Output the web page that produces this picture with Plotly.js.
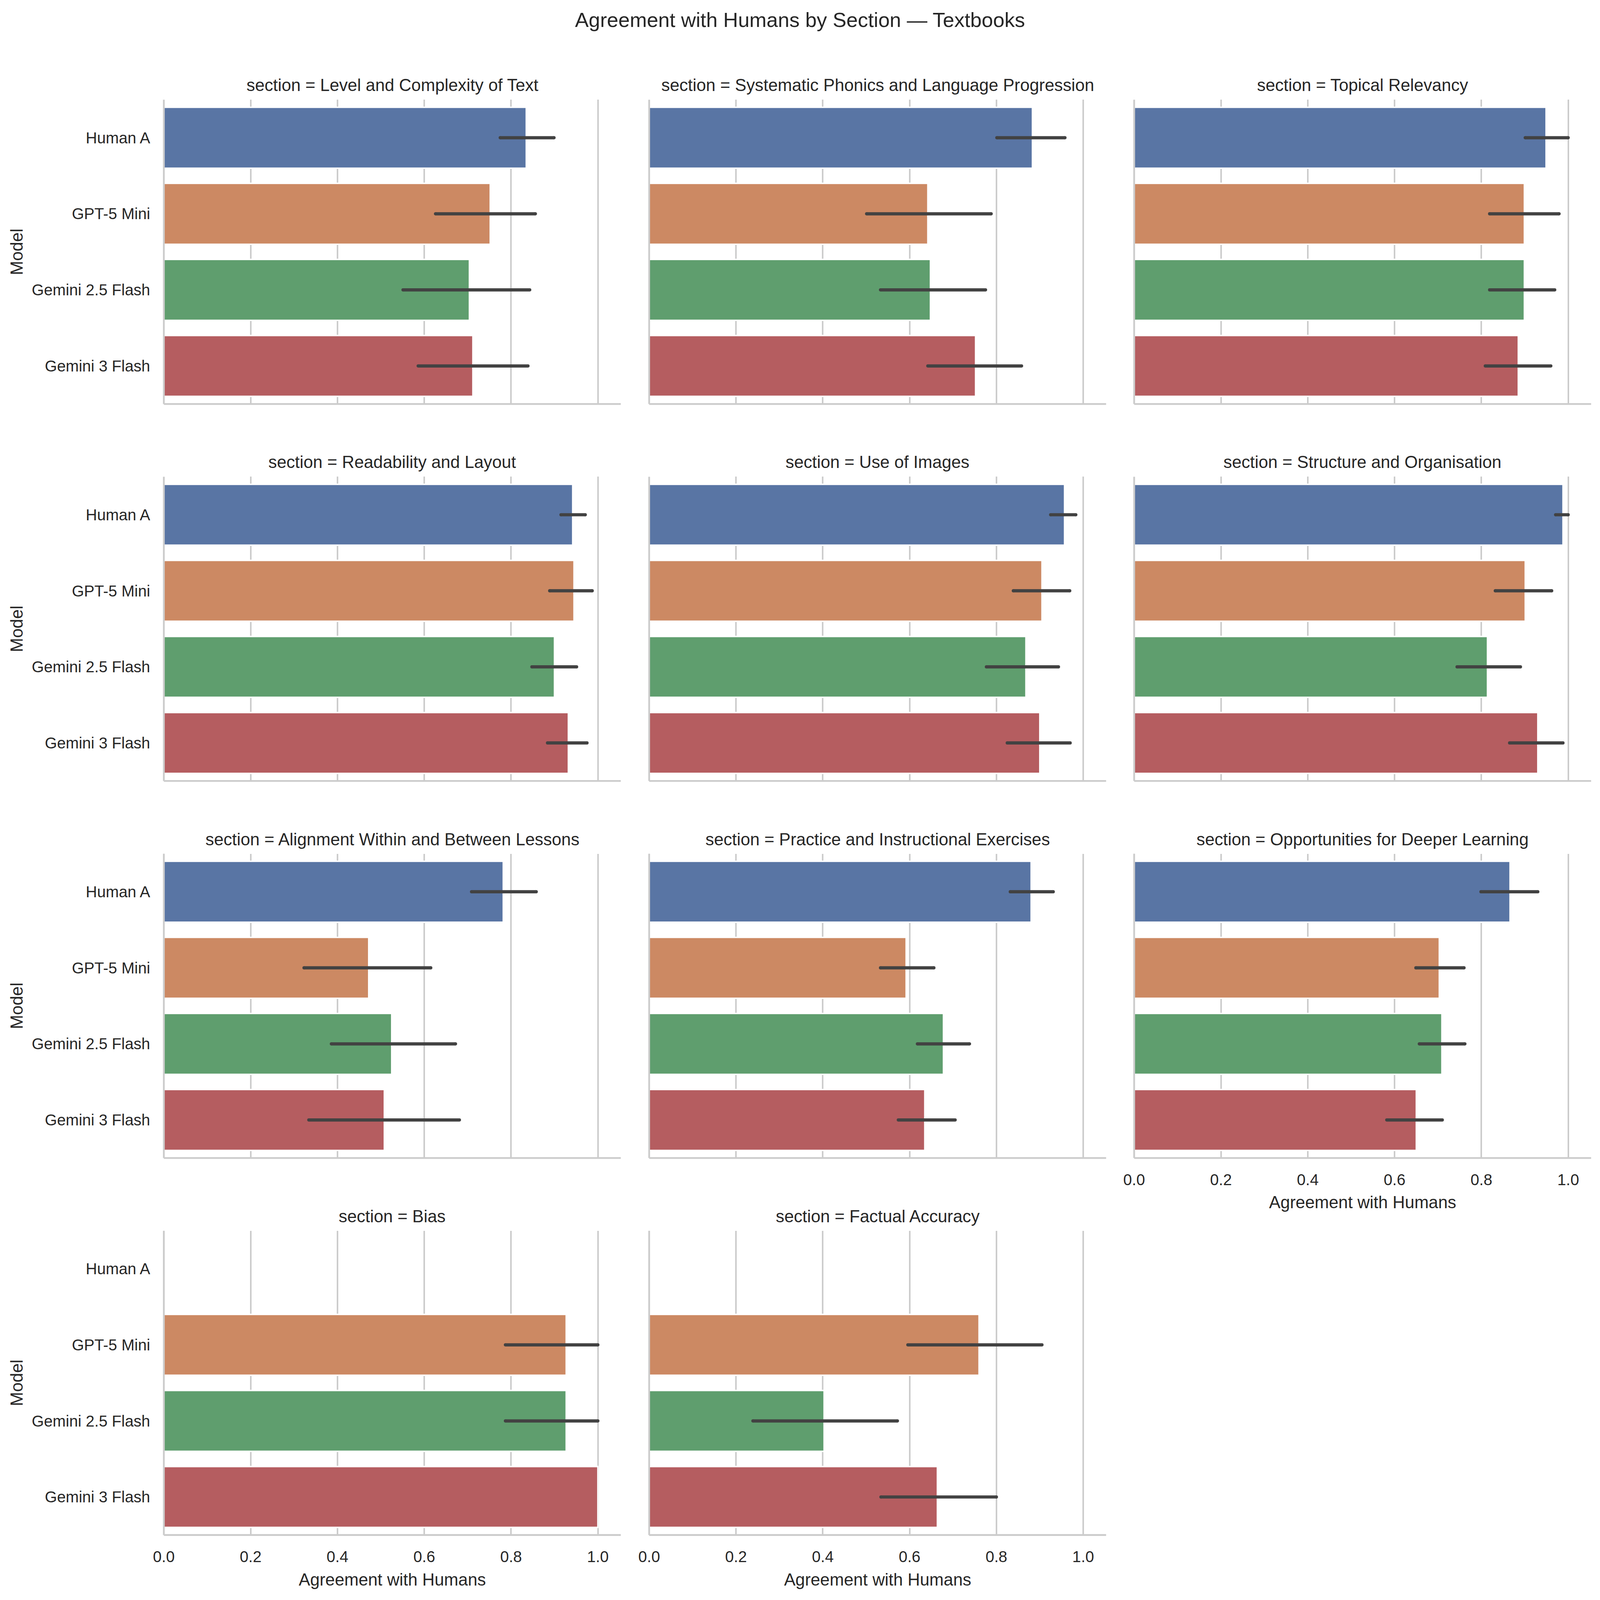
<!DOCTYPE html>
<html>
<head>
<meta charset="utf-8">
<script src="https://cdn.plot.ly/plotly-3.0.1.min.js"></script>
<style>html,body{margin:0;padding:0;background:#fff;overflow:hidden}</style>
</head>
<body>
<div id="chart"></div>
<script>
const figureTitle = "Agreement with Humans by Section — Textbooks";
const xAxisTitle = "Agreement with Humans";
const yAxisTitle = "Model";
const models = ["Human A", "GPT-5 Mini", "Gemini 2.5 Flash", "Gemini 3 Flash"];
const sections = ["Level and Complexity of Text", "Systematic Phonics and Language Progression", "Topical Relevancy",
  "Readability and Layout", "Use of Images", "Structure and Organisation",
  "Alignment Within and Between Lessons", "Practice and Instructional Exercises", "Opportunities for Deeper Learning",
  "Bias", "Factual Accuracy"];
const xTicks = [0, 0.2, 0.4, 0.6, 0.8, 1.0];
const xTickLabels = ["0.0", "0.2", "0.4", "0.6", "0.8", "1.0"];
const modelColors = ["#5975a4", "#cc8963", "#5f9e6e", "#b55d60"];

const humanA     = [.835,.883,.949,.942,.957,.988,.782,.880,.866,null,null];
const humanALow  = [.775,.801,.901,.915,.925,.971,.709,.832,.799,null,null];
const humanAHigh = [.899,.958,1.00,.971,.983,1.00,.858,.931,.930,null,null];
const gpt5Mini     = [.752,.642,.899,.945,.905,.901,.472,.592,.703,.927,.760];
const gpt5MiniLow  = [.626,.501,.819,.889,.839,.832,.323,.533,.649,.787,.596];
const gpt5MiniHigh = [.856,.788,.979,.987,.969,.962,.615,.656,.760,1.00,.905];
const gemini25     = [.704,.648,.899,.900,.868,.814,.525,.678,.709,.927,.403];
const gemini25Low  = [.551,.533,.819,.848,.777,.744,.386,.618,.657,.787,.239];
const gemini25High = [.843,.775,.969,.951,.943,.890,.672,.738,.762,1.00,.572];
const gemini3      = [.712,.752,.885,.932,.900,.930,.508,.635,.650,1.00,.664];
const gemini3Low   = [.586,.642,.809,.884,.825,.865,.334,.574,.582,null,.534];
const gemini3High  = [.839,.858,.960,.975,.970,.988,.681,.705,.710,null,.800];

// Reference dimensions; the drawing follows the window it is actually given.
const refW = 4678, refH = 4333;
const W = window.innerWidth, H = window.innerHeight;
const k = W / refW, ky = H / refH;
const colLeft = [479, 1898, 3316], panelW = 1336;
const rowTop = [270, 1291, 2312, 3333], panelH = 824;
const font = "Liberation Sans, Arial, sans-serif";
const ink = "#262626", grid = "#cccccc";

const means = [humanA, gpt5Mini, gemini25, gemini3];
const lows = [humanALow, gpt5MiniLow, gemini25Low, gemini3Low];
const highs = [humanAHigh, gpt5MiniHigh, gemini25High, gemini3High];

const traces = [];
const layout = {
  width: W, height: H, margin: {l:0, r:0, t:0, b:0}, autosize: false,
  paper_bgcolor: "#fff", plot_bgcolor: "#fff", showlegend: false,
  font: {family: font, color: ink},
  annotations: [{
    text: figureTitle, xref: "paper", yref: "paper", x: 0.5, y: 1 - 53/refH,
    xanchor: "center", yanchor: "middle", showarrow: false,
    font: {family: font, size: 60*k, color: ink}
  }],
  shapes: []
};

sections.forEach((sec, i) => {
  const col = i % 3, row = Math.floor(i / 3), n = i + 1;
  const xName = n === 1 ? "x" : "x" + n, yName = n === 1 ? "y" : "y" + n;
  const xKey = n === 1 ? "xaxis" : "xaxis" + n, yKey = n === 1 ? "yaxis" : "yaxis" + n;
  const showX = (row === 3) || (row === 2 && col === 2);
  const showY = col === 0;

  traces.push({
    type: "bar", orientation: "h", xaxis: xName, yaxis: yName,
    y: models, x: means.map(m => m[i]), width: 0.8,
    marker: {color: modelColors, line: {color: "#ffffff", width: 4.17*k}},
    hoverinfo: "x+y"
  });
  const cx = [], cy = [];
  models.forEach((m, j) => { cx.push(lows[j][i], highs[j][i], null); cy.push(m, m, null); });
  traces.push({
    type: "scatter", mode: "lines+markers", xaxis: xName, yaxis: yName,
    x: cx, y: cy, connectgaps: false, cliponaxis: false,
    line: {color: "#424242", width: 9.4*k},
    marker: {color: "#424242", size: 9.4*k, line: {width: 0}},
    hoverinfo: "x"
  });

  layout[xKey] = {
    domain: [colLeft[col]/refW, (colLeft[col]+panelW)/refW], anchor: yName,
    range: [0, 1.0528], tickmode: "array", tickvals: xTicks, ticktext: xTickLabels,
    showgrid: true, gridcolor: grid, gridwidth: 4.17*k, zeroline: false, showline: false,
    ticks: "", showticklabels: showX, ticklabelstandoff: Math.round(28),
    tickfont: {family: font, size: 45.8*k, color: ink},
    title: showX ? {text: xAxisTitle, standoff: 21.7, font: {family: font, size: 50*k, color: ink}} : {text: ""}
  };
  layout[yKey] = {
    domain: [1-(rowTop[row]+panelH)/refH, 1-rowTop[row]/refH], anchor: xName,
    type: "category", categoryorder: "array", categoryarray: models,
    range: [3.5, -0.5], showgrid: false, zeroline: false, showline: false,
    ticks: "", showticklabels: showY, ticklabelstandoff: Math.round(39*k),
    tickfont: {family: font, size: 45.8*k, color: ink},
    title: showY ? {text: yAxisTitle, standoff: 10*k, font: {family: font, size: 50*k, color: ink}} : {text: ""}
  };
  const spine = {color: grid, width: 5.2*k};
  layout.shapes.push(
    {type:"line", layer:"above", xref:xName+" domain", yref:yName+" domain", x0:0, x1:0, y0:0, y1:1, line:spine},
    {type:"line", layer:"above", xref:xName+" domain", yref:yName+" domain", x0:0, x1:1, y0:0, y1:0, line:spine}
  );
  layout.annotations.push({
    text: "section = " + sec, xref: xName+" domain", yref: yName+" domain", x: 0.5, y: 1,
    xanchor: "center", yanchor: "bottom", yshift: 11, showarrow: false,
    font: {family: font, size: 50*k, color: ink}
  });
});

Plotly.newPlot("chart", traces, layout, {displayModeBar: false, responsive: false});
</script>
</body>
</html>
